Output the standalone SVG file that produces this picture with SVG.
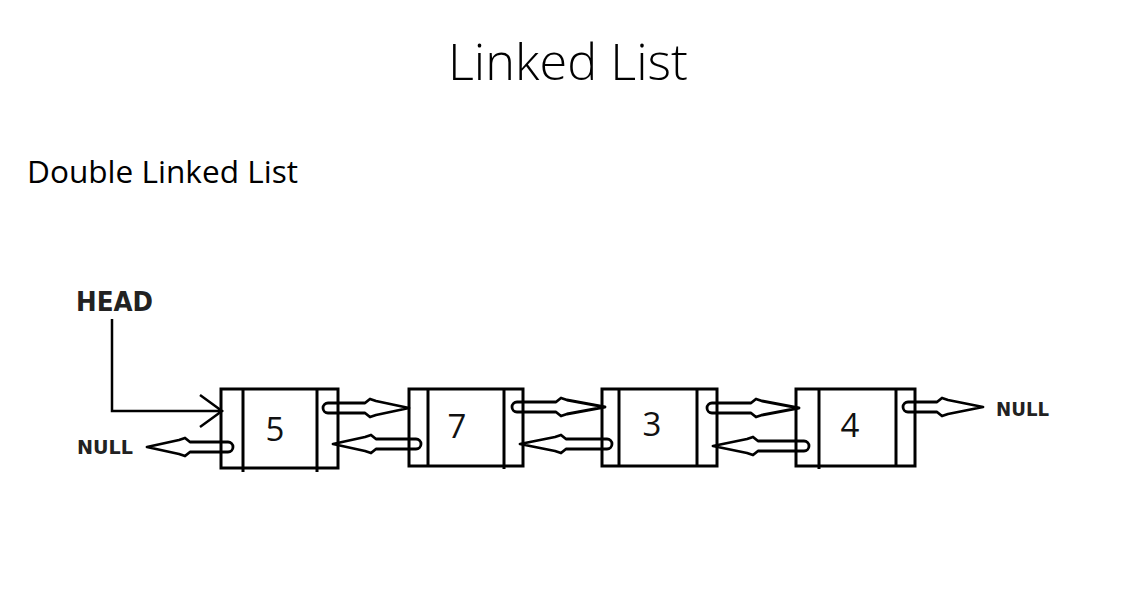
<svg xmlns="http://www.w3.org/2000/svg" width="1129" height="592" viewBox="0 0 1129 592">
<style>
.box{fill:#fff;stroke:#000;stroke-width:3}
.div{stroke:#000;stroke-width:3}
.num{font-family:"Open Sans","Liberation Sans",sans-serif;font-size:33px;fill:#111;text-anchor:middle}
.lbl{font-family:"DejaVu Sans","Liberation Sans",sans-serif;font-weight:bold;fill:#222}
.arr{fill:none;stroke:#000;stroke-width:2.8;stroke-linejoin:round}
.ptr{fill:none;stroke:#000;stroke-width:2.5}
</style>
<rect width="1129" height="592" fill="#fff"/>
<text x="568" y="80" font-family="'Open Sans','Liberation Sans',sans-serif" font-weight="300" font-size="50" text-anchor="middle" textLength="240" lengthAdjust="spacingAndGlyphs">Linked List</text>
<text x="27" y="183" font-family="'Open Sans','Liberation Sans',sans-serif" font-size="31" textLength="271" lengthAdjust="spacingAndGlyphs">Double Linked List</text>
<text id="head" class="lbl" x="76" y="311" font-size="27" textLength="77" lengthAdjust="spacingAndGlyphs">HEAD</text>
<text id="null-left" class="lbl" x="77" y="454" font-size="19" textLength="56" lengthAdjust="spacingAndGlyphs">NULL</text>
<text id="null-right" class="lbl" x="996" y="416" font-size="19" textLength="53" lengthAdjust="spacingAndGlyphs">NULL</text>
<g id="node5">
<rect class="box" x="221" y="389" width="117" height="79"/>
<line class="div" x1="243" y1="389" x2="243" y2="472"/>
<line class="div" x1="317" y1="389" x2="317" y2="472"/>
<text class="num" x="275" y="441">5</text>
</g>
<g id="node7">
<rect class="box" x="409" y="389" width="114" height="77"/>
<line class="div" x1="428" y1="389" x2="428" y2="466"/>
<line class="div" x1="504" y1="389" x2="504" y2="469"/>
<text class="num" x="457" y="438">7</text>
</g>
<g id="node3">
<rect class="box" x="602" y="389" width="115" height="77"/>
<line class="div" x1="619" y1="389" x2="619" y2="466"/>
<line class="div" x1="697" y1="389" x2="697" y2="466"/>
<text class="num" x="652" y="436">3</text>
</g>
<g id="node4">
<rect class="box" x="796" y="389" width="119" height="77"/>
<line class="div" x1="819" y1="389" x2="819" y2="469"/>
<line class="div" x1="896" y1="389" x2="896" y2="466"/>
<text class="num" x="850" y="437">4</text>
</g>
<g id="connectors">
<path class="ptr" d="M112,319 V411 H221 M200,395 L222,411 L200,427"/>
<path class="arr" d="M328,403 H365 L370,399 L376,401 L409,408 L376,415 L370,417 L365,413 H328 A5,5 0 0 1 328,403 Z"/>
<path class="arr" d="M517,402 H556 L561,398 L567,400 L605,407 L567,414 L561,416 L556,412 H517 A5,5 0 0 1 517,402 Z"/>
<path class="arr" d="M712,403 H751 L756,399 L762,401 L799,408 L762,415 L756,417 L751,413 H712 A5,5 0 0 1 712,403 Z"/>
<path class="arr" d="M908,402 H937 L942,398 L948,400 L983,407 L948,414 L942,416 L937,412 H908 A5,5 0 0 1 908,402 Z"/>
<path class="arr" d="M416,439 H376 L371,435 L365,437 L333,444 L365,451 L371,453 L376,449 H416 A5,5 0 0 0 416,439 Z"/>
<path class="arr" d="M607,439 H566 L561,435 L555,437 L520,444 L555,451 L561,453 L566,449 H607 A5,5 0 0 0 607,439 Z"/>
<path class="arr" d="M804,441 H758 L753,437 L747,439 L713,446 L747,453 L753,455 L758,451 H804 A5,5 0 0 0 804,441 Z"/>
<path class="arr" d="M228,442 H190 L185,438 L179,440 L147,447 L179,454 L185,456 L190,452 H228 A5,5 0 0 0 228,442 Z"/>
</g>
</svg>
